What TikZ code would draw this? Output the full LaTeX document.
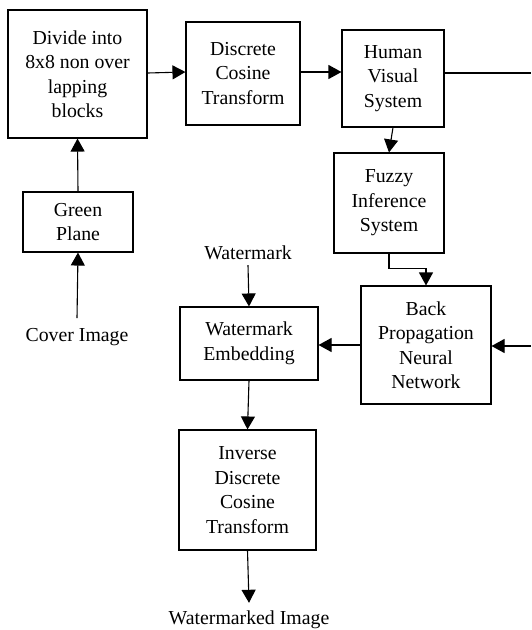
\documentclass[tikz,border=0pt]{standalone}
\usepackage{fontspec}
\setmainfont{Liberation Serif}
\usetikzlibrary{arrows.meta}

\begin{document}
\begin{tikzpicture}[x=1pt,y=-1pt,
  blk/.style={draw,line width=1.1pt,align=center,inner sep=0pt,font=\fontsize{19.8}{24.5}\selectfont},
  lbl/.style={align=center,inner sep=0pt,font=\fontsize{19.8}{24.5}\selectfont},
  arr/.style={line width=1.1pt,-{Triangle[length=13pt,width=14pt]}},
  ln/.style={line width=1.1pt}]
\useasboundingbox (0,0) rectangle (531,630);

% left column
\node[blk,minimum width=139,minimum height=128] (divide) at (77.5,74) {Divide into\\8x8 non over\\lapping\\blocks};
\node[blk,minimum width=110,minimum height=60] (green) at (78,222) {Green\\Plane};
\node[lbl] (cover) at (77,337) {Cover Image};

% top row
\node[blk,minimum width=114,minimum height=103] (dct) at (243,73.5) {Discrete\\Cosine\\Transform};
\node[blk,minimum width=102,minimum height=97] (hvs) at (393,78.5) {Human\\Visual\\System};
\node[blk,minimum width=110,minimum height=100] (fis) at (389,203) {Fuzzy\\Inference\\System};
\node[blk,minimum width=130,minimum height=118] (bpnn) at (426,345) {Back\\Propagation\\Neural\\Network};

% embedding part
\node[lbl] (wm) at (248,253) {Watermark};
\node[blk,minimum width=138,minimum height=73] (embed) at (249,343.5) {Watermark\\Embedding};
\node[blk,minimum width=137,minimum height=120] (idct) at (247.5,490) {Inverse\\Discrete\\Cosine\\Transform};
\node[lbl] (wmd) at (249,620) {Watermarked Image};

\coordinate (hvsout) at (531,73);
\coordinate (bpin) at (531,346);

\draw[arr] (cover.north) ++(0,-10) -- (green.south);
\draw[arr] (green.north) -- (divide.south);
\draw[arr] (divide.east) ++(0,-1) -- (dct.west |- 0,72);
\draw[arr] (dct.east |- 0,72) -- (hvs.west |- 0,72);
\draw[ln] (hvs.east |- hvsout) -- (hvsout);
\draw[arr] (hvs.south) -- (fis.north);
\draw[arr] (fis.south) -- ++(0,15) -| (bpnn.north);
\draw[arr] (bpin) -- (bpnn.east |- bpin);
\draw[arr] (bpnn.west) -- (embed.east |- bpnn.west);
\draw[arr] (wm.south) ++(0,5) -- (embed.north);
\draw[arr] (embed.south) -- (idct.north);
\draw[arr] (idct.south) -- ([yshift=8pt]wmd.north);
\end{tikzpicture}
\end{document}
